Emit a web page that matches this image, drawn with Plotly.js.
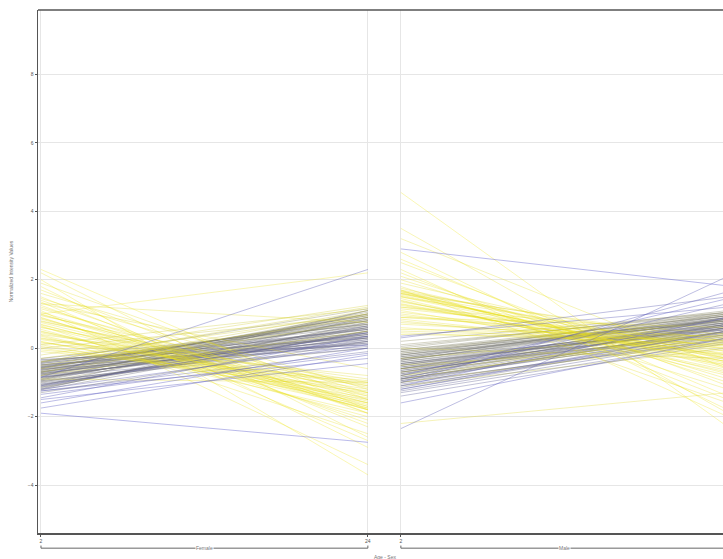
<!DOCTYPE html>
<html><head><meta charset="utf-8">
<script src="https://cdn.plot.ly/plotly-3.0.1.min.js"></script>
<style>html,body{margin:0;padding:0;overflow:hidden;background:#fff}</style>
</head><body><div id="chart" style="width:723px;height:559px"></div>
<script>
// Tick positions / labels (Age within Sex)
const tickPos = [2, 24, 26.22, 48.22];
const tickText = ["2", "24", "2", "24"];
const groups = ["Female", "Male"];

// Values per profile at Female-2, Female-24, Male-2, Male-24 and membership (0 = yellow, 1 = blue)
const female2 = [
  // gray, increasing
  -1.3,-1.2,-1.15,-1.1,-1.05,-1.0,-0.95,-0.9,-0.85,-0.8,-0.78,-0.75,-0.7,-0.68,-0.65,-0.6,-0.58,-0.55,-0.5,-0.48,
  -0.45,-0.4,-0.38,-0.35,-0.3,-1.25,-1.12,-0.98,-0.88,-0.72,-0.62,-0.52,-0.42,-0.82,-0.92,-1.08,-0.66,-0.56,-0.76,-1.02,
  -1.18,-1.06,-0.96,-0.86,-0.79,-0.71,-0.63,-0.57,-0.49,-0.41,-0.33,-1.22,-0.93,-0.74,-0.54,-0.44,-0.84,-1.14,-0.69,-0.6,
  // yellow, decreasing
  2.3,2.2,2.0,1.9,1.8,1.6,1.5,1.4,1.3,1.2,1.15,1.1,1.0,0.95,0.9,0.85,0.8,0.7,0.65,0.6,
  0.5,0.45,0.4,0.35,0.3,0.2,0.15,0.1,0.0,-0.1,0.55,0.75,1.05,0.25,
  1.7,1.45,1.25,0.98,0.88,0.78,0.62,0.48,0.38,0.28,0.18,0.05,-0.05,1.35,0.68,
  // yellow / olive others
  1.0,1.3,-0.4,-0.6,-0.3,-0.5,-0.2,0.0,-0.7,0.1,-0.8,-0.9,
  // blue
  -1.9,-0.85,-1.5,-1.35,-1.6,-1.2,-1.45,-1.25,-1.75,-1.1
];
const female24 = [
  0.2,0.9,0.5,1.1,0.3,0.7,0.0,1.0,0.4,0.8,0.15,0.6,1.05,0.35,0.75,0.25,0.95,0.55,0.85,0.1,
  0.65,1.15,0.45,0.3,0.7,-0.1,0.6,0.2,0.5,0.9,0.05,0.4,0.8,0.3,0.65,0.45,1.0,0.15,0.55,0.35,
  0.75,0.25,0.85,0.45,1.0,0.2,0.6,0.9,0.35,0.7,0.1,0.5,1.1,0.3,0.8,0.55,0.0,0.65,0.4,0.95,
  -1.8,-2.6,-3.7,-1.5,-2.9,-1.2,-2.3,-1.9,-0.6,-1.7,-1.4,-3.4,-1.8,-1.1,-2.1,-1.6,-1.3,-1.8,-2.5,-1.0,
  -1.7,-1.4,-0.9,-1.9,-1.2,-1.6,-0.8,-1.5,-1.3,-1.0,-2.0,-1.55,-1.75,-1.1,
  -1.9,-1.3,-2.2,-1.5,-1.8,-1.15,-1.65,-1.35,-1.75,-1.05,-1.45,-1.25,-0.95,-2.7,-1.6,
  2.2,0.75,1.2,1.1,1.0,0.9,1.25,0.95,0.8,1.15,0.5,-1.0,
  -2.75,2.3,-0.45,-0.15,0.0,0.1,0.35,-0.3,-0.2,0.45
];
const male2 = [
  -1.0,-0.6,-0.8,-0.3,-1.2,-0.5,-0.9,-0.2,-0.7,-0.4,-1.1,-0.55,-0.1,-0.85,-0.35,-0.95,0.0,-0.65,-0.25,-1.3,
  -0.45,0.1,-0.75,-0.15,-0.5,-1.4,-0.6,-0.3,-0.8,-0.05,-1.05,-0.4,-0.2,-0.7,-0.9,-0.35,0.2,-0.6,-0.1,-0.45,
  -0.75,-1.15,-0.35,-0.95,-0.15,-0.55,-0.85,-0.25,-0.65,0.05,-1.25,-0.45,-0.05,-0.7,-0.3,-0.9,-1.0,-0.5,-0.2,-0.6,
  4.55,3.5,2.6,3.2,2.3,1.9,2.5,1.7,1.65,1.6,2.0,1.55,1.5,1.7,1.25,1.6,1.4,1.2,1.0,1.8,
  0.9,1.3,0.75,1.45,0.6,1.1,0.5,0.85,1.65,0.4,2.1,1.35,1.5,0.95,
  2.2,1.75,1.62,1.58,1.68,1.15,1.52,0.7,1.05,1.38,0.55,0.8,0.45,2.8,1.28,
  0.9,1.2,-0.8,-1.0,-0.6,-0.9,-0.5,-0.7,-1.1,-0.3,0.0,-2.2,
  2.9,-2.35,-1.6,-1.0,-0.8,-0.9,0.35,-1.2,-1.1,0.3
];
const male24 = [
  0.6,0.9,0.7,1.0,0.4,0.8,0.5,1.05,0.65,0.85,0.3,0.75,0.95,0.55,0.9,0.45,1.1,0.7,0.8,0.2,
  0.6,1.0,0.5,0.85,0.65,0.15,0.75,0.55,0.9,0.95,0.35,0.7,0.8,0.6,0.5,0.85,1.05,0.4,0.75,0.65,
  0.85,0.5,0.95,0.6,1.0,0.55,0.7,0.9,0.45,1.05,0.3,0.75,0.8,0.65,0.95,0.4,0.25,0.7,0.85,0.6,
  -2.3,-1.9,-1.4,-0.6,-2.0,-0.3,-1.1,-0.2,0.1,-0.5,-0.9,-0.4,-0.1,-1.6,-0.3,0.2,-0.7,0.0,-0.2,-1.2,
  0.3,-0.4,0.1,-0.8,0.0,-0.5,0.2,-0.15,-0.6,0.25,-1.0,-0.25,-0.45,0.05,
  -1.5,-0.35,-0.55,-0.05,-0.75,0.15,-0.3,0.2,-0.1,-0.65,0.35,-0.2,0.1,-1.8,-0.4,
  0.6,0.4,0.3,0.2,0.4,0.5,0.1,0.35,0.0,0.45,-0.3,-1.3,
  1.82,2.1,0.3,1.65,1.45,1.3,1.2,0.5,0.9,1.5
];
const membership = [
  0.6,0.65,0.55,0.6,0.7,0.5,0.62,0.58,0.68,0.55,0.72,0.6,0.5,0.66,0.57,0.7,0.52,0.63,0.59,0.75,
  0.61,0.5,0.67,0.56,0.64,0.78,0.6,0.69,0.58,0.53,0.74,0.62,0.55,0.66,0.71,0.6,0.5,0.68,0.57,0.65,
  0.6,0.7,0.55,0.65,0.5,0.72,0.6,0.58,0.68,0.52,0.76,0.62,0.54,0.66,0.59,0.7,0.74,0.63,0.57,0.61,
  0.0,0.05,0.0,0.08,0.02,0.1,0.04,0.06,0.12,0.03,0.07,0.01,0.05,0.09,0.03,0.11,0.06,0.02,0.04,0.08,
  0.1,0.05,0.13,0.03,0.07,0.02,0.12,0.06,0.04,0.1,0.05,0.08,0.03,0.09,
  0.04,0.07,0.02,0.09,0.05,0.11,0.03,0.08,0.06,0.1,0.04,0.12,0.07,0.01,0.05,
  0.05,0.1,0.25,0.3,0.2,0.28,0.22,0.3,0.35,0.25,0.3,0.12,
  1.0,0.9,0.95,0.9,0.95,0.88,0.9,0.92,0.95,0.88
];

function colorFor(c){
  const stops = [[0,[238,228,20,0.45]],[0.3,[200,195,60,0.5]],[0.6,[110,110,115,0.55]],[1,[90,90,205,0.6]]];
  for (let i=1;i<stops.length;i++){
    if (c<=stops[i][0]){
      const [p0,a]=stops[i-1],[p1,b]=stops[i];
      const t=(c-p0)/(p1-p0);
      const col=a.map((v,k)=>v+(b[k]-v)*t);
      return `rgba(${Math.round(col[0])},${Math.round(col[1])},${Math.round(col[2])},${col[3].toFixed(2)})`;
    }
  }
  return 'rgba(90,90,205,0.6)';
}

const traces = female2.map((v,i)=>({
  type:'scatter', mode:'lines',
  x:[tickPos[0],tickPos[1],null,tickPos[2],tickPos[3]],
  y:[female2[i],female24[i],null,male2[i],male24[i]],
  line:{color:colorFor(membership[i]), width:0.7},
  hoverinfo:'skip', showlegend:false
}));

const txt = {family:'Liberation Sans, Arial, sans-serif', size:5, color:'#555'};
const lbl = {family:'Liberation Sans, Arial, sans-serif', size:5, color:'#777'};
const layout = {
  width:723, height:559,
  margin:{l:38, r:0, t:10, b:26},
  paper_bgcolor:'#fff', plot_bgcolor:'#fff',
  font: txt,
  xaxis:{
    range:[1.8, 47.9], tickvals:tickPos, ticktext:tickText,
    showgrid:true, gridcolor:'#e6e6e6', gridwidth:1, zeroline:false,
    showline:true, linecolor:'#555', linewidth:1.5,
    ticks:'outside', ticklen:2, tickcolor:'#555', tickfont:txt
  },
  yaxis:{
    range:[-5.4, 9.88], tickvals:[-4,-2,0,2,4,6,8],
    showgrid:true, gridcolor:'#e6e6e6', gridwidth:1, zeroline:false,
    showline:true, linecolor:'#555', linewidth:1.5,
    ticks:'outside', ticklen:2, tickcolor:'#555', tickfont:txt,
    title:{text:'Normalized Intensity Values', font:lbl, standoff:14}
  },
  shapes:[
    {type:'line', xref:'paper', yref:'paper', x0:0, x1:1, y0:1, y1:1, line:{color:'#555', width:1.5}},
    {type:'line', xref:'x', yref:'paper', x0:tickPos[0], x1:tickPos[1], y0:-0.029, y1:-0.029, line:{color:'#666', width:1}},
    {type:'line', xref:'x', yref:'paper', x0:tickPos[0], x1:tickPos[0], y0:-0.029, y1:-0.024, line:{color:'#666', width:1}},
    {type:'line', xref:'x', yref:'paper', x0:tickPos[1], x1:tickPos[1], y0:-0.029, y1:-0.024, line:{color:'#666', width:1}},
    {type:'line', xref:'x', yref:'paper', x0:tickPos[2], x1:tickPos[3], y0:-0.029, y1:-0.029, line:{color:'#666', width:1}},
    {type:'line', xref:'x', yref:'paper', x0:tickPos[2], x1:tickPos[2], y0:-0.029, y1:-0.024, line:{color:'#666', width:1}}
  ],
  annotations:[
    {xref:'x', yref:'paper', x:(tickPos[0]+tickPos[1])/2, y:-0.029, yanchor:'middle', text:groups[0], showarrow:false, font:lbl, bgcolor:'#fff', borderpad:0},
    {xref:'x', yref:'paper', x:(tickPos[2]+tickPos[3])/2, y:-0.029, yanchor:'middle', text:groups[1], showarrow:false, font:lbl, bgcolor:'#fff', borderpad:0},
    {xref:'paper', yref:'paper', x:0.506, y:-0.046, yanchor:'middle', text:'Age - Sex', showarrow:false, font:lbl}
  ]
};
Plotly.newPlot('chart', traces, layout, {staticPlot:true, displayModeBar:false});
</script></body></html>
